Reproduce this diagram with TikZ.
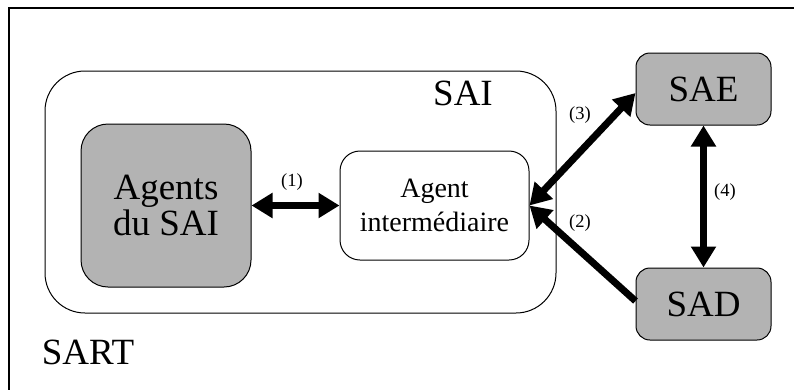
\documentclass[tikz,border=0pt]{standalone}
\usepackage{fontspec}
\setmainfont{Liberation Serif}
\usetikzlibrary{arrows.meta}
\definecolor{boxgray}{RGB}{179,179,179}
\begin{document}
\begin{tikzpicture}[x=1pt,y=-1pt,
  bigtxt/.style={font=\fontsize{37}{37}\selectfont},
  midtxt/.style={font=\fontsize{28}{34}\selectfont},
  smalltxt/.style={font=\fontsize{18.5}{20}\selectfont},
  graybox/.style={draw=black,line width=1pt,fill=boxgray,align=center,inner sep=0pt},
  whitebox/.style={draw=black,line width=1pt,fill=white,align=center,inner sep=0pt},
  bigarrow/.style={line width=7pt,-{Triangle[length=21pt,width=24pt]}},
  dblarrow/.style={line width=7pt,{Triangle[length=21pt,width=24pt]}-{Triangle[length=21pt,width=24pt]}}]
\useasboundingbox (0,0) rectangle (794,389);
\clip (0,0) rectangle (794,389);
\fill[white] (0,0) rectangle (794,389);
\draw[line width=1.2pt] (9,8) rectangle (810,400);
\node[draw=black,line width=1pt,rounded corners=40pt,minimum width=511pt,minimum height=242pt,inner sep=0pt] (sai) at (300.5,192) {};
\node[bigtxt,inner sep=0pt] (sailabel) at (463,93) {SAI};
\node[bigtxt,inner sep=0pt] (sart) at (88,352) {SART};
\node[graybox,rounded corners=27pt,minimum width=170pt,minimum height=163pt,bigtxt,font=\fontsize{37}{36}\selectfont] (agents) at (166,205.5) {Agents\\du SAI};
\node[whitebox,rounded corners=20pt,minimum width=189pt,minimum height=109pt,midtxt] (inter) at (434.5,205.5) {Agent\\intermédiaire};
\node[graybox,rounded corners=14pt,minimum width=135pt,minimum height=72pt,bigtxt] (sae) at (703.5,89) {SAE};
\node[graybox,rounded corners=14pt,minimum width=135pt,minimum height=72pt,bigtxt] (sad) at (703.5,304) {SAD};
\draw[dblarrow] (agents.east) -- (inter.west);
\draw[dblarrow] (inter.east) -- ([yshift=-4pt]sae.west);
\draw[bigarrow] ([yshift=3pt]sad.west) -- (inter.east);
\draw[dblarrow] (sae.south) -- (sad.north);
\node[smalltxt] (l1) at (292,182) {(1)};
\node[smalltxt] (l3) at (580,115) {(3)};
\node[smalltxt] (l4) at (725,192) {(4)};
\node[smalltxt] (l2) at (580,223) {(2)};
\end{tikzpicture}
\end{document}
